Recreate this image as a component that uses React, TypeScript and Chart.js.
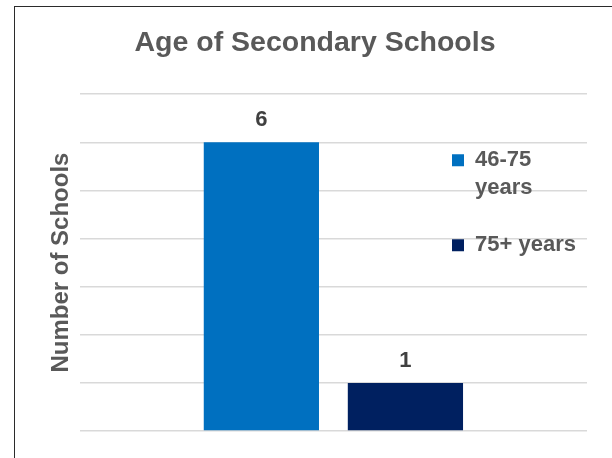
import React, { useEffect, useRef } from 'react';
import { Chart, registerables } from 'chart.js';

Chart.register(...registerables);

// Data
const categories = ['Secondary Schools'];
const seriesNames = ['46-75 years', '75+ years'];
const schools46to75 = [6];
const schools75plus = [1];
const legendLines: (string | string[])[] = [['46-75', 'years'], '75+ years'];
const yMin = 0;
const yMax = 7;
const yStep = 1;

const FONT = "'Liberation Sans', Arial, Helvetica, sans-serif";
const TEXT_GRAY = '#595959';

// Writes each bar's value just above its top edge.
const barValueLabels = {
  id: 'barValueLabels',
  afterDatasetsDraw(chart: any) {
    const ctx = chart.ctx;
    ctx.save();
    ctx.font = `bold 22px ${FONT}`;
    ctx.fillStyle = '#404040';
    ctx.textAlign = 'center';
    ctx.textBaseline = 'alphabetic';
    chart.data.datasets.forEach((ds: any, i: number) => {
      const meta = chart.getDatasetMeta(i);
      meta.data.forEach((bar: any, j: number) => {
        ctx.fillText(String(ds.data[j]), bar.x, bar.y - 16);
      });
    });
    ctx.restore();
  },
};

// The legend floats over the right part of the plot area.
const floatingLegend = {
  id: 'floatingLegend',
  afterLayout(chart: any) {
    const lg = chart.legend;
    if (!lg) return;
    const area = chart.chartArea;
    const pad = lg.options.labels.padding;
    lg.left = area.right - 135 - pad;
    lg.top = area.top + 55 - pad;
    lg.right = lg.left + lg.width;
    lg.bottom = chart.height;
  },
};

export default function App() {
  const canvasRef = useRef<HTMLCanvasElement | null>(null);

  useEffect(() => {
    const canvas = canvasRef.current;
    if (!canvas) return;
    const chart = new Chart(canvas, {
      type: 'bar',
      data: {
        labels: categories,
        datasets: [
          {
            label: seriesNames[0],
            data: schools46to75,
            backgroundColor: '#0070C0',
            borderWidth: 0,
          },
          {
            label: seriesNames[1],
            data: schools75plus,
            backgroundColor: '#002060',
            borderWidth: 0,
          },
        ],
      },
      options: {
        responsive: false,
        animation: false,
        devicePixelRatio: 1,
        layout: { padding: { left: 43, right: 25, top: 0, bottom: 27 } },
        datasets: {
          bar: { categoryPercentage: 0.568, barPercentage: 0.8 },
        },
        scales: {
          x: { display: false },
          y: {
            min: yMin,
            max: yMax,
            ticks: { display: false, stepSize: yStep },
            border: { display: false },
            grid: { color: '#d9d9d9', lineWidth: 1.5, drawTicks: false },
            title: {
              display: true,
              text: 'Number of Schools',
              color: TEXT_GRAY,
              font: { family: FONT, size: 24, weight: 'bold' },
              padding: { top: 4, bottom: 4 },
            },
          },
        },
        plugins: {
          title: {
            display: true,
            text: 'Age of Secondary Schools',
            color: TEXT_GRAY,
            font: { family: FONT, size: 28.5, weight: 'bold', lineHeight: 1.2 },
            padding: { top: 26, bottom: 34 },
          },
          legend: {
            display: true,
            position: 'chartArea',
            align: 'start',
            labels: {
              boxWidth: 12,
              boxHeight: 12,
              padding: 30,
              color: TEXT_GRAY,
              font: { family: FONT, size: 22, weight: 'bold', lineHeight: 1.25 },
              generateLabels(ch: any) {
                const items = Chart.defaults.plugins.legend.labels.generateLabels(ch);
                return items.map((it: any, i: number) => ({ ...it, text: legendLines[i], lineWidth: 0 }));
              },
            },
          },
          tooltip: { enabled: false },
        },
      },
      plugins: [barValueLabels, floatingLegend],
    });
    return () => chart.destroy();
  }, []);

  return (
    <div
      style={{
        position: 'absolute',
        left: 0,
        top: 0,
        width: 612,
        height: 458,
        overflow: 'hidden',
        background: '#ffffff',
      }}
    >
      <canvas
        ref={canvasRef}
        width={612}
        height={458}
        style={{ position: 'absolute', left: 0, top: 0, width: 612, height: 458 }}
      />
      <div
        style={{
          position: 'absolute',
          left: 14,
          top: 6,
          width: 700,
          height: 600,
          borderLeft: '1.5px solid #2b2b2b',
          borderTop: '1.5px solid #2b2b2b',
          pointerEvents: 'none',
        }}
      />
    </div>
  );
}
